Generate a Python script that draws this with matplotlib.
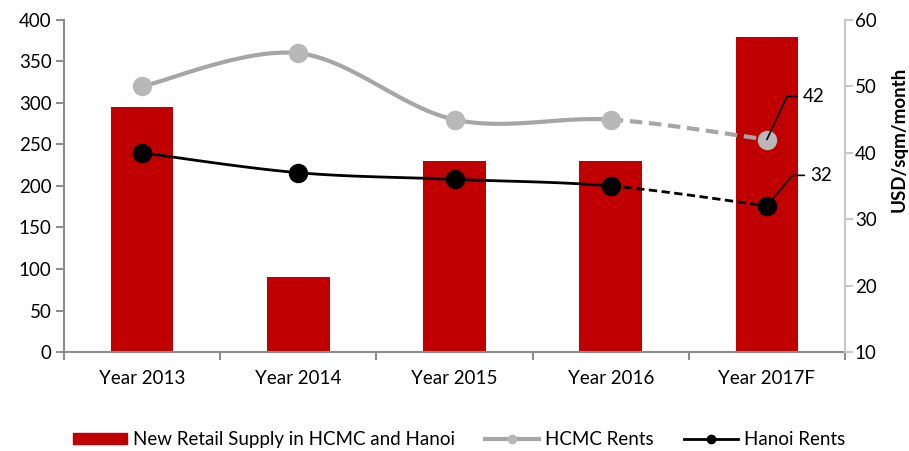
import matplotlib
matplotlib.use("Agg")
import matplotlib.pyplot as plt
from matplotlib.lines import Line2D
from matplotlib.patches import Patch
import numpy as np

years = ["Year 2013", "Year 2014", "Year 2015", "Year 2016", "Year 2017F"]
supply = [295, 90, 230, 230, 380]
hcmc_rents = [50, 55, 45, 45, 42]
hanoi_rents = [40, 37, 36, 35, 32]

RED = "#C00000"
GRAY_LINE = "#A6A6A6"
GRAY_MARK = "#B8B8B8"
AXIS_GRAY = "#8C8C8C"
LIGHT_AXIS = "#C8C8C8"
FS = 13.5

plt.rcParams["font.family"] = ["Lato", "DejaVu Sans"]


def bezier_segments(x, y, steps=40):
    # Excel-style smoothing: cubic Bezier through each pair, control points from neighbours
    x = np.asarray(x, float)
    y = np.asarray(y, float)
    n = len(x)
    segs = []
    t = np.linspace(0, 1, steps)[:, None]
    for i in range(n - 1):
        p0 = np.array([x[max(i - 1, 0)], y[max(i - 1, 0)]])
        p1 = np.array([x[i], y[i]])
        p2 = np.array([x[i + 1], y[i + 1]])
        p3 = np.array([x[min(i + 2, n - 1)], y[min(i + 2, n - 1)]])
        c1 = p1 + (p2 - p0) / 6.0
        c2 = p2 - (p3 - p1) / 6.0
        pts = ((1 - t) ** 3) * p1 + 3 * ((1 - t) ** 2) * t * c1 + 3 * (1 - t) * t ** 2 * c2 + t ** 3 * p2
        segs.append(pts)
    return segs


def main():
    fig = plt.figure(figsize=(9.09, 4.51), dpi=100)
    ax = fig.add_axes([0.0704, 0.2195, 0.8592, 0.7362])
    ax2 = ax.twinx()

    x = np.arange(len(years))
    ax.bar(x, supply, width=0.4, color=RED, zorder=2)
    ax.set_xlim(-0.5, len(years) - 0.5)
    ax.set_ylim(0, 400)
    ax.set_yticks(range(0, 401, 50))
    ax.set_xticks(x)
    ax.set_xticklabels(years)
    ax.set_xticks(np.arange(-0.5, len(years), 1.0), minor=True)
    ax.tick_params(axis="x", which="major", length=0, pad=13, labelsize=FS)
    ax.tick_params(axis="x", which="minor", length=6, color=AXIS_GRAY, width=1.5, direction="out")
    ax.tick_params(axis="y", length=6, color=AXIS_GRAY, width=1.5, labelsize=FS, pad=3)

    for s in ["top", "right"]:
        ax.spines[s].set_visible(False)
    ax.spines["left"].set_color(AXIS_GRAY)
    ax.spines["left"].set_linewidth(1.5)
    ax.spines["bottom"].set_color(AXIS_GRAY)
    ax.spines["bottom"].set_linewidth(1.5)

    ax2.set_ylim(10, 60)
    ax2.set_yticks(range(10, 61, 10))
    ax2.tick_params(axis="y", length=6, color=LIGHT_AXIS, width=1.5, labelsize=FS, pad=1)
    for s in ["top", "left", "bottom"]:
        ax2.spines[s].set_visible(False)
    ax2.spines["right"].set_color(LIGHT_AXIS)
    ax2.spines["right"].set_linewidth(1.5)
    ax2.set_ylabel("USD/sqm/month", fontsize=FS, fontweight="bold")
    ax2.yaxis.set_label_coords(1.059, 0.64)

    # smoothed rent lines, last (forecast) segment dashed
    for vals, lc, mc, lw in [(hcmc_rents, GRAY_LINE, GRAY_MARK, 3.0), (hanoi_rents, "black", "black", 2.0)]:
        segs = bezier_segments(x, vals)
        solid = np.vstack(segs[:-1])
        ax2.plot(solid[:, 0], solid[:, 1], color=lc, lw=lw, zorder=3, solid_capstyle="round")
        ax2.plot(segs[-1][:, 0], segs[-1][:, 1], color=lc, lw=lw, ls=(0, (3, 1.6)), zorder=3)
        ax2.plot(x, vals, ls="none", marker="o", ms=13, color=mc, zorder=4)

    # data labels for forecast values
    ax2.annotate(str(hcmc_rents[-1]), xy=(x[-1], hcmc_rents[-1]), xytext=(26, 31),
                 textcoords="offset points", ha="left", va="center", fontsize=FS,
                 arrowprops=dict(arrowstyle="-", color="black", lw=1.2, shrinkA=2, shrinkB=0,
                                 relpos=(0, 0.5),
                                 connectionstyle="angle,angleA=0,angleB=65,rad=0"),
                 zorder=5)
    ax2.annotate(str(hanoi_rents[-1]), xy=(x[-1], hanoi_rents[-1]), xytext=(31, 22),
                 textcoords="offset points", ha="left", va="center", fontsize=FS,
                 arrowprops=dict(arrowstyle="-", color="black", lw=1.2, shrinkA=2, shrinkB=0,
                                 relpos=(0, 0.5),
                                 connectionstyle="angle,angleA=0,angleB=50,rad=0"),
                 zorder=5)

    handles = [
        Patch(color=RED, label="New Retail Supply in HCMC and Hanoi"),
        Line2D([], [], color=GRAY_LINE, lw=3, marker="o", ms=6, mfc=GRAY_MARK, mec=GRAY_MARK, label="HCMC Rents"),
        Line2D([], [], color="black", lw=2, marker="o", ms=6, label="Hanoi Rents"),
    ]
    fig.legend(handles=handles, loc="center", bbox_to_anchor=(0.505, 0.025), ncol=3, frameon=False,
               fontsize=FS, handlelength=2.9, handleheight=0.55, columnspacing=1.6, handletextpad=0.3)

    fig.savefig("out.png", dpi=100)


if __name__ == "__main__":
    main()
